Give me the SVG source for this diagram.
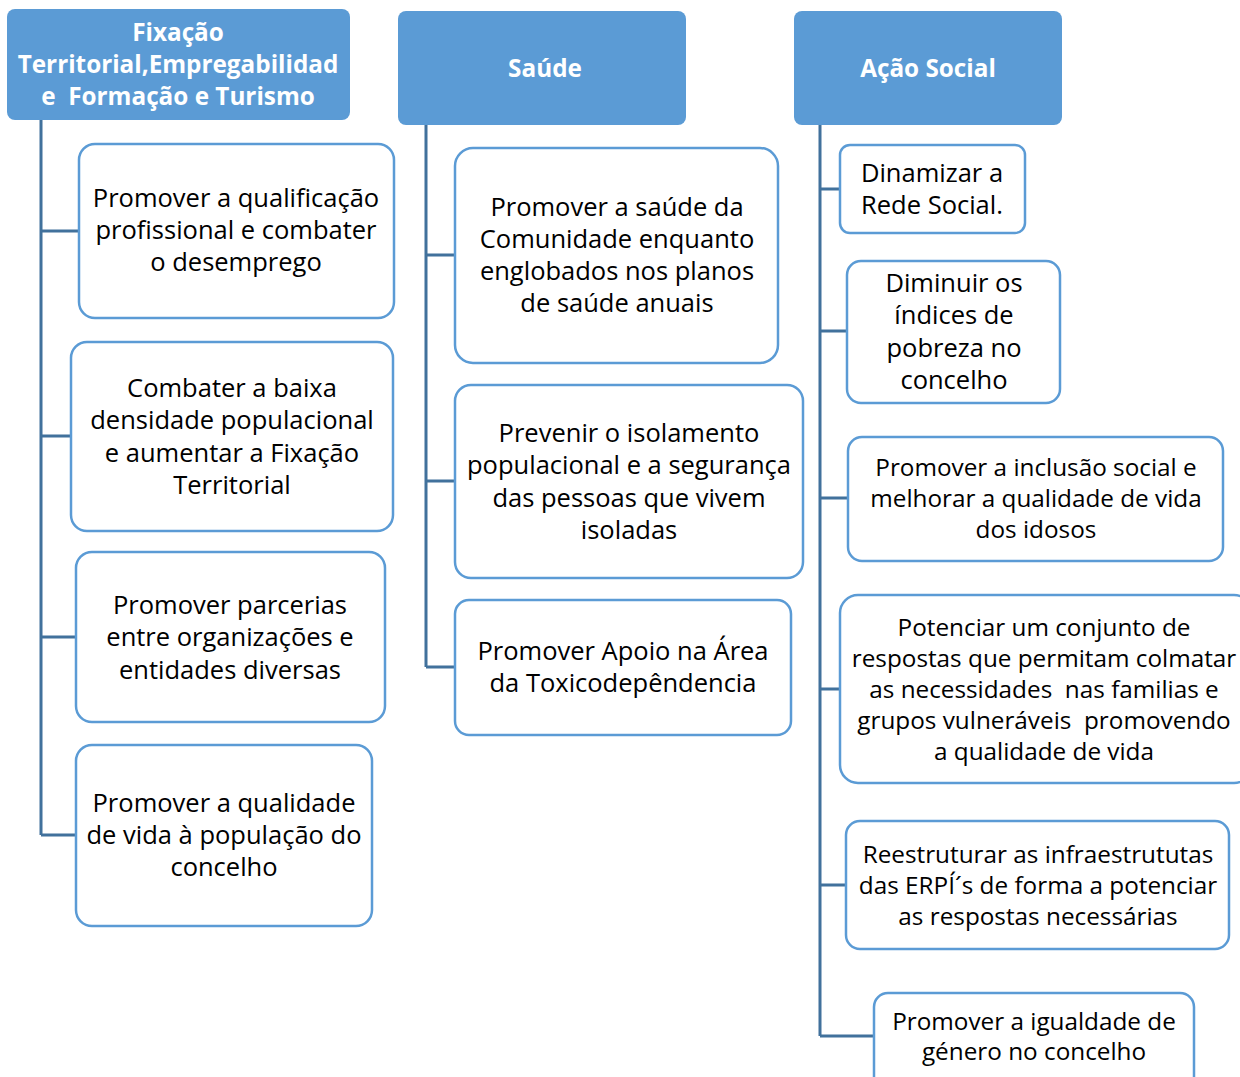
<svg xmlns="http://www.w3.org/2000/svg" width="1240" height="1077" viewBox="0 0 1240 1077">
<style>
.hd{fill:#5B9BD5;}
.hdt{fill:#fff;font-family:"Open Sans","Noto Sans",sans-serif;font-weight:bold;font-size:24.3px;text-anchor:middle;white-space:pre;}
.bx{fill:#fff;stroke:#5B9BD5;stroke-width:2.5;}
.t{fill:#000;font-family:"Open Sans","Noto Sans",sans-serif;font-size:25.5px;text-anchor:middle;white-space:pre;}
.t2{fill:#000;font-family:"Open Sans","Noto Sans",sans-serif;font-size:24.3px;text-anchor:middle;white-space:pre;}
.c{stroke:#41719C;stroke-width:3;fill:none;}
</style>
<rect width="1240" height="1077" fill="#fff"/>
<g id="connectors">
<path class="c" d="M41 120V835M41 231H79M41 436H71M41 637H76M41 835H76"/>
<path class="c" d="M426 125V667M426 255H455M426 481H455M426 667H455"/>
<path class="c" d="M820 125V1036M820 189H840M820 331H847M820 498H848M820 689H840M820 885H846M820 1036H874"/>
</g>
<g id="h1"><rect class="hd" x="7" y="9" width="343" height="111" rx="8"/>
<text class="hdt" x="178" y="41">Fixação</text>
<text class="hdt" x="178" y="73">Territorial,Empregabilidad</text>
<text class="hdt" x="178" y="105">e  Formação e Turismo</text></g>
<g id="h2"><rect class="hd" x="398" y="11" width="288" height="114" rx="8"/>
<text class="hdt" x="545" y="77">Saúde</text></g>
<g id="h3"><rect class="hd" x="794" y="11" width="268" height="114" rx="8"/>
<text class="hdt" x="928" y="77">Ação Social</text></g>

<g id="l1"><rect class="bx" x="79" y="144" width="315" height="174" rx="16"/>
<text class="t" x="236" y="207">Promover a qualificação</text>
<text class="t" x="236" y="239">profissional e combater</text>
<text class="t" x="236" y="271">o desemprego</text></g>
<g id="l2"><rect class="bx" x="71" y="342" width="322" height="189" rx="16"/>
<text class="t" x="232" y="397">Combater a baixa</text>
<text class="t" x="232" y="429">densidade populacional</text>
<text class="t" x="232" y="462">e aumentar a Fixação</text>
<text class="t" x="232" y="494">Territorial</text></g>
<g id="l3"><rect class="bx" x="76" y="552" width="309" height="170" rx="16"/>
<text class="t" x="230" y="614">Promover parcerias</text>
<text class="t" x="230" y="646">entre organizações e</text>
<text class="t" x="230" y="679">entidades diversas</text></g>
<g id="l4"><rect class="bx" x="76" y="745" width="296" height="181" rx="16"/>
<text class="t" x="224" y="812">Promover a qualidade</text>
<text class="t" x="224" y="844">de vida à população do</text>
<text class="t" x="224" y="876">concelho</text></g>

<g id="m1"><rect class="bx" x="455" y="148" width="323" height="215" rx="18"/>
<text class="t" x="617" y="216">Promover a saúde da</text>
<text class="t" x="617" y="248">Comunidade enquanto</text>
<text class="t" x="617" y="280">englobados nos planos</text>
<text class="t" x="617" y="312">de saúde anuais</text></g>
<g id="m2"><rect class="bx" x="455" y="385" width="348" height="193" rx="16"/>
<text class="t" x="629" y="442">Prevenir o isolamento</text>
<text class="t" x="629" y="474">populacional e a segurança</text>
<text class="t" x="629" y="507">das pessoas que vivem</text>
<text class="t" x="629" y="539">isoladas</text></g>
<g id="m3"><rect class="bx" x="455" y="600" width="336" height="135" rx="14"/>
<text class="t" x="623" y="660">Promover Apoio na Área</text>
<text class="t" x="623" y="692">da Toxicodepêndencia</text></g>

<g id="r1"><rect class="bx" x="840" y="145" width="185" height="88" rx="10"/>
<text class="t" x="932" y="182">Dinamizar a</text>
<text class="t" x="932" y="214">Rede Social.</text></g>
<g id="r2"><rect class="bx" x="847" y="261" width="213" height="142" rx="14"/>
<text class="t" x="954" y="292">Diminuir os</text>
<text class="t" x="954" y="324">índices de</text>
<text class="t" x="954" y="357">pobreza no</text>
<text class="t" x="954" y="389">concelho</text></g>
<g id="r3"><rect class="bx" x="848" y="437" width="375" height="124" rx="14"/>
<text class="t2" x="1036" y="476">Promover a inclusão social e</text>
<text class="t2" x="1036" y="507">melhorar a qualidade de vida</text>
<text class="t2" x="1036" y="538">dos idosos</text></g>
<g id="r4"><rect class="bx" x="840" y="595" width="412" height="188" rx="18"/>
<text class="t2" x="1044" y="636">Potenciar um conjunto de</text>
<text class="t2" x="1044" y="667">respostas que permitam colmatar</text>
<text class="t2" x="1044" y="698">as necessidades  nas familias e</text>
<text class="t2" x="1044" y="729">grupos vulneráveis  promovendo</text>
<text class="t2" x="1044" y="760">a qualidade de vida</text></g>
<g id="r5"><rect class="bx" x="846" y="821" width="383" height="128" rx="14"/>
<text class="t2" x="1038" y="863">Reestruturar as infraestrututas</text>
<text class="t2" x="1038" y="894">das ERPÍ´s de forma a potenciar</text>
<text class="t2" x="1038" y="925">as respostas necessárias</text></g>
<g id="r6"><rect class="bx" x="874" y="993" width="320" height="100" rx="14"/>
<text class="t2" x="1034" y="1030">Promover a igualdade de</text>
<text class="t2" x="1034" y="1060">género no concelho</text></g>
</svg>
